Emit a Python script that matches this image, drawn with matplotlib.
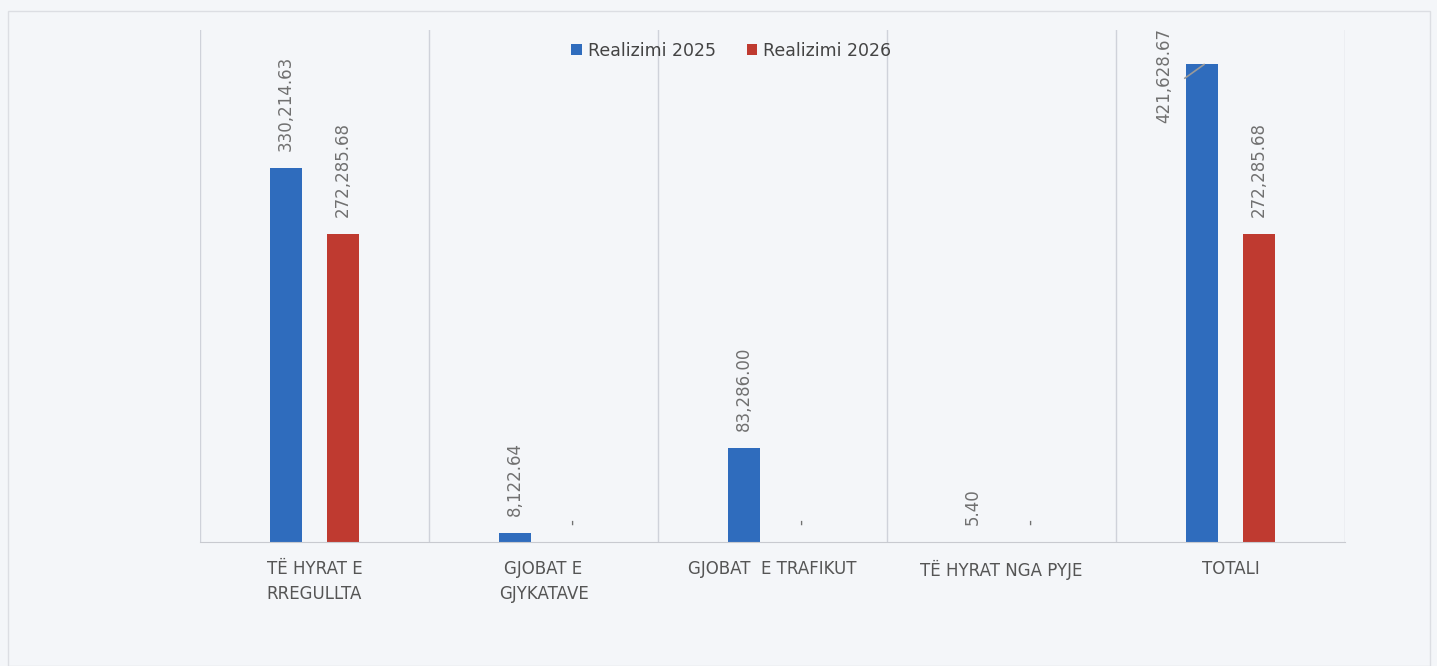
import numpy as np
import matplotlib.pyplot as plt
from matplotlib.patches import Rectangle

# Chart data
categories = ["TË HYRAT E\nRREGULLTA", "GJOBAT E\nGJYKATAVE", "GJOBAT  E TRAFIKUT",
              "TË HYRAT NGA PYJE", "TOTALI"]
realizimi_2025 = [330214.63, 8122.64, 83286.00, 5.40, 421628.67]
realizimi_2026 = [272285.68, 0, 0, 0, 272285.68]
series_names = ["Realizimi 2025", "Realizimi 2026"]

blue = "#2f6cbd"
red = "#bf3a30"
bg = "#f4f6f9"
label_color = "#707070"

fig = plt.figure(figsize=(14.37, 6.66), dpi=100, facecolor=bg)
ax = fig.add_axes([200 / 1437, 1 - 542 / 666, 1145 / 1437, 512 / 666])
ax.set_facecolor(bg)

# faint scan frame
fig.patches.append(Rectangle((8 / 1437, 0.0), 1422 / 1437, 1 - 11 / 666,
                             transform=fig.transFigure, fill=False,
                             edgecolor="#dcdee3", linewidth=1))

x = np.arange(len(categories))
w = 0.14
off = 0.125

ax.bar(x - off, realizimi_2025, w, color=blue, label=series_names[0])
ax.bar(x + off, realizimi_2026, w, color=red, label=series_names[1])

ax.set_xlim(-0.5, len(categories) - 0.5)
ax.set_ylim(0, 452000)


def fmt(v):
    return "-" if v == 0 else f"{v:,.2f}"


# value labels
last = len(categories) - 1
for i, v in enumerate(realizimi_2025):
    if i == last:
        # label pushed to the left of the bar with a small leader line
        xi = x[i] - off - 0.165
        ax.annotate(fmt(v), (xi, v), xytext=(0, -42), textcoords="offset points",
                    rotation=90, ha="center", va="bottom", fontsize=12,
                    color=label_color)
        ax.annotate("", xy=(x[i] - off + 0.01, v), xytext=(-14, -10),
                    textcoords="offset points",
                    arrowprops=dict(arrowstyle="-", color="#9a9a9a", lw=1.2,
                                    shrinkA=0, shrinkB=0))
        continue
    ax.annotate(fmt(v), (x[i] - off, v), xytext=(0, 12), textcoords="offset points",
                rotation=90, ha="center", va="bottom", fontsize=12, color=label_color)
for i, v in enumerate(realizimi_2026):
    ax.annotate(fmt(v), (x[i] + off, v), xytext=(0, 12), textcoords="offset points",
                rotation=90, ha="center", va="bottom", fontsize=12, color=label_color)

# category separators
ax.set_xticks(np.arange(-0.5, len(categories)), minor=True)
ax.grid(which="minor", axis="x", color="#cfd2da", linewidth=1)
ax.set_xticks(x)
ax.set_xticklabels(categories, fontsize=12, color="#555555", linespacing=1.5)
ax.tick_params(axis="x", which="both", length=0, pad=13)
ax.set_yticks([])

for s in ["top", "left", "right"]:
    ax.spines[s].set_visible(False)
ax.spines["bottom"].set_color("#c8cad0")

leg = ax.legend(loc="center", bbox_to_anchor=(0.464, 0.959), ncol=2, frameon=False,
                fontsize=12.5, handlelength=0.6, handleheight=0.6, handletextpad=0.35,
                columnspacing=1.8)
for t in leg.get_texts():
    t.set_color("#444444")

fig.savefig("out.png", dpi=100, facecolor=bg)
